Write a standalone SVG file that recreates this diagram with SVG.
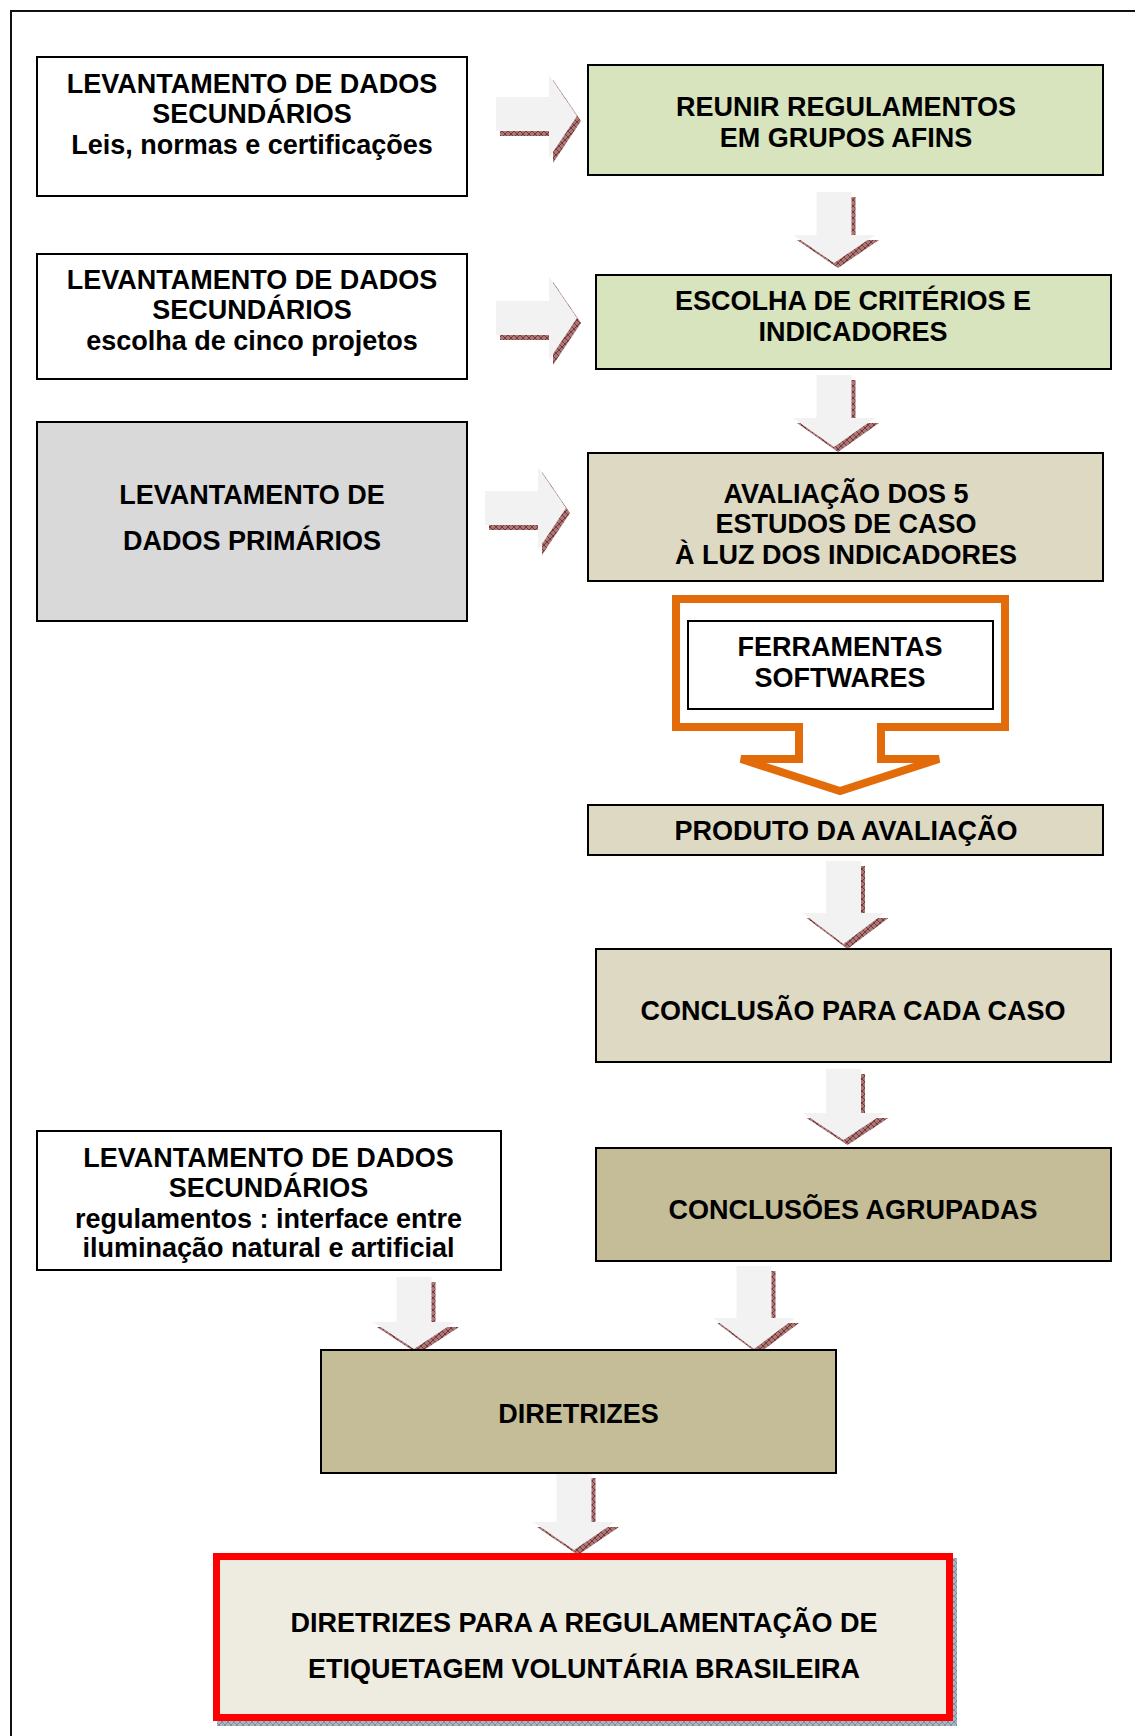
<svg xmlns="http://www.w3.org/2000/svg" xmlns:xlink="http://www.w3.org/1999/xlink" width="1135" height="1736" viewBox="0 0 1135 1736">
<style>
  text { font-family: "Liberation Sans", Arial, sans-serif; font-weight: bold; font-size: 27px; fill: #000; text-anchor: middle; }
  .box { stroke: #000; stroke-width: 2; }
  .white { fill: #ffffff; }
  .green { fill: #d7e4bd; }
  .tanl { fill: #ddd9c3; }
  .tand { fill: #c4bd97; }
  .gray { fill: #d9d9d9; }
  .arr { fill: #f2f2f2; }
  .sh { fill: url(#hatch); }
</style>
<defs>
  <pattern id="hatch" patternUnits="userSpaceOnUse" width="6" height="6">
    <rect width="6" height="6" fill="#a87878"/>
    <path d="M0,0 L6,6 M6,0 L0,6" stroke="#74302f" stroke-width="0.9"/>
  </pattern>
  <pattern id="hatchBlue" patternUnits="userSpaceOnUse" width="6" height="6">
    <rect width="6" height="6" fill="#a7b6c4"/>
    <path d="M0,0 L6,6 M6,0 L0,6" stroke="#6f8496" stroke-width="0.8"/>
  </pattern>
  <path id="a1" d="M496,97 H549 V75 L577,116 L549,158 V131 H496 Z"/>
  <path id="a2" d="M496,301 H549 V277 L577,318 L549,360 V335 H496 Z"/>
  <path id="a3" d="M485,491 H538 V467 L566,508 L538,550 V525 H485 Z"/>
  <path id="d1" d="M816.5,192 H851.5 V235 H875 L834,263 L793,235 H816.5 Z"/>
  <path id="d2" d="M816.5,375 H851.5 V418 H875 L834,447 L793,418 H816.5 Z"/>
  <path id="d3" d="M826,861 H861 V913 H884.5 L843.5,944 L802.5,913 H826 Z"/>
  <path id="d4" d="M826,1069 H861 V1113 H884.5 L843.5,1140 L802.5,1113 H826 Z"/>
  <path id="d5" d="M396.5,1277 H431.5 V1322 H455 L414,1349 L373,1322 H396.5 Z"/>
  <path id="d6" d="M736.5,1266 H771.5 V1318 H795 L754,1349 L713,1318 H736.5 Z"/>
  <path id="d7" d="M556.5,1473 H591.5 V1522 H615 L574,1550 L533,1522 H556.5 Z"/>
</defs>

<rect x="0" y="0" width="1135" height="1736" fill="#ffffff"/>
<!-- outer frame -->
<rect x="11" y="11" width="1200" height="1800" fill="none" stroke="#111" stroke-width="2"/>

<g id="connectors">
  <g transform="translate(4,5)">
    <use xlink:href="#a1" class="sh"/><use xlink:href="#a2" class="sh"/><use xlink:href="#a3" class="sh"/>
    <use xlink:href="#d1" class="sh"/><use xlink:href="#d2" class="sh"/><use xlink:href="#d3" class="sh"/>
    <use xlink:href="#d4" class="sh"/><use xlink:href="#d5" class="sh"/><use xlink:href="#d6" class="sh"/>
    <use xlink:href="#d7" class="sh"/>
  </g>
  <use xlink:href="#a1" class="arr"/><use xlink:href="#a2" class="arr"/><use xlink:href="#a3" class="arr"/>
  <use xlink:href="#d1" class="arr"/><use xlink:href="#d2" class="arr"/><use xlink:href="#d3" class="arr"/>
  <use xlink:href="#d4" class="arr"/><use xlink:href="#d5" class="arr"/><use xlink:href="#d6" class="arr"/>
  <use xlink:href="#d7" class="arr"/>
</g>

<g id="sec1">
  <rect class="box white" x="37" y="57" width="430" height="139"/>
  <text x="252" y="93">LEVANTAMENTO DE DADOS</text>
  <text x="252" y="123">SECUNDÁRIOS</text>
  <text x="252" y="154">Leis, normas e certificações</text>
</g>

<g id="reunir">
  <rect class="box green" x="588" y="65" width="515" height="110"/>
  <text x="846" y="116">REUNIR REGULAMENTOS</text>
  <text x="846" y="147">EM GRUPOS AFINS</text>
</g>

<g id="sec2">
  <rect class="box white" x="37" y="254" width="430" height="125"/>
  <text x="252" y="289">LEVANTAMENTO DE DADOS</text>
  <text x="252" y="319">SECUNDÁRIOS</text>
  <text x="252" y="350">escolha de cinco projetos</text>
</g>

<g id="criterios">
  <rect class="box green" x="596" y="275" width="515" height="94"/>
  <text x="853" y="310">ESCOLHA DE CRITÉRIOS E</text>
  <text x="853" y="341">INDICADORES</text>
</g>

<g id="primarios">
  <rect class="box gray" x="37" y="422" width="430" height="199"/>
  <text x="252" y="504">LEVANTAMENTO DE</text>
  <text x="252" y="550">DADOS PRIMÁRIOS</text>
</g>

<g id="avaliacao">
  <rect class="box tanl" x="588" y="453" width="515" height="128"/>
  <text x="846" y="503">AVALIAÇÃO DOS 5</text>
  <text x="846" y="533">ESTUDOS DE CASO</text>
  <text x="846" y="564">À LUZ DOS INDICADORES</text>
</g>

<g id="ferramentas">
  <path d="M676,599 H1005 V727 H881 V759 H939 L840,791 L741,759 H799 V727 H676 Z" fill="#ffffff" stroke="#e36c0a" stroke-width="8" stroke-linejoin="miter"/>
  <rect class="box white" x="688" y="621" width="305" height="88"/>
  <text x="840" y="656">FERRAMENTAS</text>
  <text x="840" y="687">SOFTWARES</text>
</g>

<g id="produto">
  <rect class="box tanl" x="588" y="805" width="515" height="50"/>
  <text x="846" y="840">PRODUTO DA AVALIAÇÃO</text>
</g>

<g id="conclusao">
  <rect class="box tanl" x="596" y="949" width="515" height="113"/>
  <text x="853" y="1020">CONCLUSÃO PARA CADA CASO</text>
</g>

<g id="sec3">
  <rect class="box white" x="37" y="1131" width="464" height="139"/>
  <text x="268.5" y="1167">LEVANTAMENTO DE DADOS</text>
  <text x="268.5" y="1197">SECUNDÁRIOS</text>
  <text x="268.5" y="1228">regulamentos : interface entre</text>
  <text x="268.5" y="1257">iluminação natural e artificial</text>
</g>

<g id="agrupadas">
  <rect class="box tand" x="596" y="1148" width="515" height="113"/>
  <text x="853" y="1219">CONCLUSÕES AGRUPADAS</text>
</g>

<g id="diretrizes">
  <rect class="box tand" x="321" y="1350" width="515" height="123"/>
  <text x="578.5" y="1423">DIRETRIZES</text>
</g>

<g id="final">
  <rect x="217" y="1558" width="740" height="168" fill="url(#hatchBlue)"/>
  <rect x="216.5" y="1556.5" width="733" height="161" fill="#eeece1" stroke="#ff0000" stroke-width="7"/>
  <text x="584" y="1632">DIRETRIZES PARA A REGULAMENTAÇÃO DE</text>
  <text x="584" y="1678">ETIQUETAGEM VOLUNTÁRIA BRASILEIRA</text>
</g>
</svg>
